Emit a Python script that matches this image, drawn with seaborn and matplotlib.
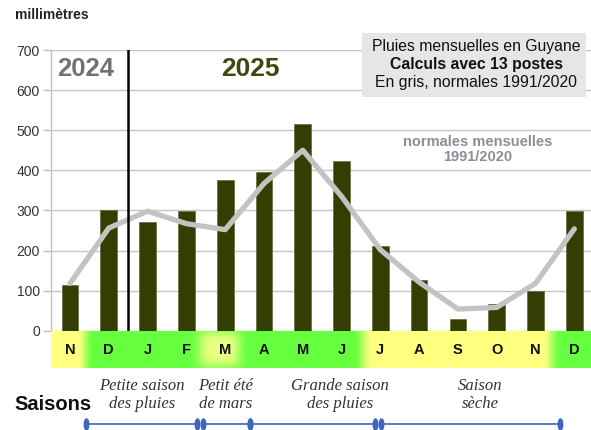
import numpy as np
import pandas as pd
import matplotlib
matplotlib.use("Agg")
import matplotlib.pyplot as plt
import seaborn as sns
from matplotlib.path import Path
from matplotlib.transforms import Affine2D
from matplotlib.patches import Rectangle

# ---------------- data ----------------
months = ["N", "D", "J", "F", "M", "A", "M", "J", "J", "A", "S", "O", "N", "D"]
rain_mm = [113, 302, 271, 298, 377, 395, 515, 422, 212, 127, 30, 67, 100, 298]
normals_mm = [118, 256, 298, 267, 252, 367, 450, 335, 202, 121, 54, 58, 118, 254]
y_ticks = [0, 100, 200, 300, 400, 500, 600, 700]
season_labels = ["Petite saison\ndes pluies", "Petit été\nde mars",
                 "Grande saison\ndes pluies", "Saison\nsèche"]
title_lines = ["Pluies mensuelles en Guyane", "Calculs avec 13 postes",
               "En gris, normales 1991/2020"]

sns.set_style("white")
plt.rcParams["font.family"] = ["Liberation Sans", "DejaVu Sans"]

W, H = 591, 430
fig = plt.figure(figsize=(W / 100, H / 100), dpi=100)


def fx(px):
    return px / W


def fy(py):
    return 1 - py / H


# ---------------- main axes ----------------
ax_left, ax_right, ax_top, ax_bot = 51, 591, 50, 330.7
ax = fig.add_axes([fx(ax_left), fy(ax_bot), fx(ax_right) - fx(ax_left), fy(ax_top) - fy(ax_bot)])

df = pd.DataFrame({"pos": range(len(months)), "rain": rain_mm, "normal": normals_mm})
sns.barplot(data=df, x="pos", y="rain", color="#333f02", width=0.43, saturation=1,
            edgecolor="#55602a", linewidth=0.4, ax=ax, zorder=2)
sns.lineplot(data=df, x="pos", y="normal", color="#c3c3c3", lw=3.8, ax=ax, zorder=3)

ax.set_xlim(-0.49, 13.43)
ax.set_ylim(0, 700)
ax.set_yticks(y_ticks)
ax.set_yticklabels([str(v) for v in y_ticks], fontsize=10, color="#333333")
ax.tick_params(axis="y", length=6, width=1, color="#c0c0c0", pad=2, left=True)
ax.set_xticks([])
ax.set_xlabel("")
ax.set_ylabel("")
ax.grid(axis="y", color="#c6c6c6", lw=1)
ax.set_axisbelow(True)
for s in ["top", "right", "bottom"]:
    ax.spines[s].set_visible(False)
ax.spines["left"].set_color("#c0c0c0")
ax.spines["left"].set_linewidth(1)

ax.axvline(1.5, color="black", lw=1.8, zorder=4)
ax.text(0.41, 652, "2024", ha="center", va="center", fontsize=18.5,
        fontweight="bold", color="#727272")
ax.text(4.66, 652, "2025", ha="center", va="center", fontsize=19,
        fontweight="bold", color="#3a4a0e")
ax.text(10.5, 452, "normales mensuelles\n1991/2020", ha="center", va="center",
        fontsize=10.5, fontweight="bold", color="#8c8e96", linespacing=1.05)

# ---------------- title box ----------------
fig.add_artist(Rectangle((fx(362), fy(97)), (586 - 362) / W, (97 - 33) / H,
                         transform=fig.transFigure, facecolor="#e6e6e6",
                         edgecolor="none", zorder=5))
for i, (t, yy) in enumerate(zip(title_lines, [46, 64, 82])):
    fig.text(fx(476), fy(yy), t, ha="center", va="center", fontsize=11.3,
             fontweight="bold" if i == 1 else "normal", color="#111111", zorder=6)

fig.text(fx(15), fy(15), "millimètres", ha="left", va="center", fontsize=10,
         fontweight="bold", color="#222222")

# ---------------- month strip ----------------
ax2 = fig.add_axes([fx(ax_left), fy(368), fx(ax_right) - fx(ax_left), (368 - 331) / H])
x0, x1 = -0.49, 13.43
xs = np.linspace(x0, x1, 1400)
ys = np.linspace(0, 1, 60)


def smooth(a, b, x):
    t = np.clip((x - a) / (b - a), 0, 1)
    return t * t * (3 - 2 * t)


green_w = smooth(0.2, 0.6, xs) * (1 - smooth(7.3, 7.8, xs)) + smooth(12.2, 12.65, xs)
yellow = np.array([255, 255, 128]) / 255
green = np.array([102, 255, 64]) / 255
glow = np.array([235, 255, 130]) / 255
base = yellow[None, :] * (1 - green_w[:, None]) + green[None, :] * green_w[:, None]
gx = np.exp(-((xs - 3.85) / 0.55) ** 4)
gy = np.exp(-((ys - 0.5) / 0.5) ** 4)
gw = gy[:, None] * gx[None, :]
img = base[None, :, :] * (1 - gw[:, :, None]) + glow[None, None, :] * gw[:, :, None]
ax2.imshow(img, extent=[x0, x1, 0, 1], aspect="auto", origin="lower")
ax2.set_xlim(x0, x1)
ax2.set_ylim(0, 1)
ax2.axis("off")
for i, m in enumerate(months):
    ax2.text(i, 0.48, m, ha="center", va="center", fontsize=10.5, fontweight="bold",
             color="#111111")

# ---------------- seasons overlay ----------------
axo = fig.add_axes([0, 0, 1, 1])
axo.set_xlim(0, W)
axo.set_ylim(H, 0)
axo.axis("off")
axo.patch.set_alpha(0)

axo.text(14, 404, "Saisons", ha="left", va="center", fontsize=14.5, fontweight="bold",
         color="#111111")
for lab, cx in zip(season_labels, [142, 226, 340, 480]):
    axo.text(cx, 395, lab, ha="center", va="center", fontsize=12, style="italic",
             family="Liberation Serif", color="#333333", linespacing=1.15)

ell = Path.unit_circle().transformed(Affine2D().scale(0.4, 1))
for a, b in [(86, 197), (203, 250), (250, 375), (381, 560)]:
    axo.plot([a, b], [423.5, 423.5], color="#4a72c0", lw=1.3, marker=ell,
             markersize=8, markerfacecolor="#3f66b8", markeredgecolor="#3f66b8")

fig.savefig("out.png", dpi=100)
